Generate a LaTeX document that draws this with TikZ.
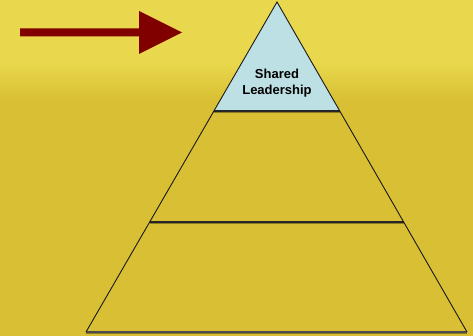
\documentclass[tikz,border=0pt]{standalone}
\usepackage{fontspec}
\setmainfont{Liberation Sans}
\definecolor{bgtop}{HTML}{E9D84D}
\definecolor{bgbottom}{HTML}{D9BF33}
\definecolor{arrowred}{HTML}{800000}
\definecolor{tipblue}{HTML}{BDE0E4}
\definecolor{lineshadow}{HTML}{8A7A20}
\tikzset{
    sideline/.style={
        draw=black!90, % 金字塔两侧细线
        line width=0.9pt
    },
    layerline/.style={
        draw=black!85, % 分层横线
        line width=1.8pt
    },
    shadowline/.style={
        draw=lineshadow,
        line width=1.2pt
    },
    labeltext/.style={
        align=center,
        font=\bfseries\fontsize{13}{16}\selectfont,
        inner sep=0
    }
}

\begin{document}
\begin{tikzpicture}[x=1pt, y=-1pt]
    % 背景
    \fill[bgtop] (0,0) rectangle (473,336);
    \shade[top color=bgtop, bottom color=bgbottom] (0,62) rectangle (473,100);
    \fill[bgbottom] (0,100) rectangle (473,336);
    \useasboundingbox (0,0) rectangle (473,336);

    % 金字塔的顶点
    \coordinate (apex) at (277,2);
    \coordinate (topleft) at (213.7,111);
    \coordinate (topright) at (339.8,111);
    \coordinate (midleft) at (149.5,222);
    \coordinate (midright) at (403.6,222);
    \coordinate (baseleft) at (86,332);
    \coordinate (baseright) at (467,332);

    % 顶层
    \fill[tipblue] (apex) -- (topleft) -- (topright) -- cycle;
    \node[labeltext] (shared) at (277,83) {Shared\\Leadership};

    % 分层线
    \draw[shadowline] ([yshift=-1.6pt]topleft) -- ([yshift=-1.6pt]topright);
    \draw[layerline] (topleft) -- (topright);
    \draw[shadowline] ([yshift=-1.6pt]midleft) -- ([yshift=-1.6pt]midright);
    \draw[layerline] (midleft) -- (midright);
    \draw[shadowline] ([yshift=-1pt]baseleft) -- ([yshift=-1pt]baseright);
    \draw[layerline, draw=black!70] (baseleft) -- (baseright);

    % 两侧
    \draw[sideline] (baseleft) -- (apex) -- (baseright);

    % 箭头
    \fill[arrowred] (20,28.5) -- (139,28.5) -- (139,11) -- (182,32.5)
        -- (139,54) -- (139,36.5) -- (20,36.5) -- cycle;
\end{tikzpicture}
\end{document}
